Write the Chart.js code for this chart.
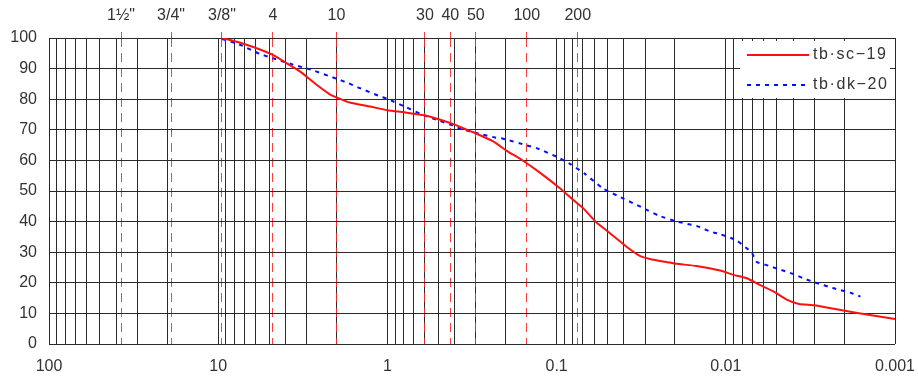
<!DOCTYPE html>
<html lang="ko">
<head>
    <meta charset="UTF-8">
    <title>입도분포곡선</title>
    <script src="https://cdn.jsdelivr.net/npm/chart.js@4.4.0/dist/chart.umd.min.js"></script>
    <style>
        html,
        body {
            margin: 0;
            padding: 0;
            background: #fff;
        }
    </style>
</head>

<body>
    <canvas id="myChart" width="918" height="378"></canvas>
    <script>
        // sieve openings (mm) and their names shown on top
        const sieveSizes = [37.5, 19, 9.5, 4.75, 2.0, 0.6, 0.425, 0.3, 0.15, 0.075];
        const sieveLabels = ['1½"', '3/4"', '3/8"', '4', '10', '30', '40', '50', '100', '200'];

        // bottom axis decades
        const decades = [100, 10, 1, 0.1, 0.01, 0.001];
        const decadeLabels = ['100', '10', '1', '0.1', '0.01', '0.001'];
        const yTickValues = [0, 10, 20, 30, 40, 50, 60, 70, 80, 90, 100];

        // tb-sc-19 : particle size (mm) / percent passing
        const scSize = [9.5, 6.8, 4.75, 3.95, 3.29, 2.62, 2.19, 2.0, 1.67, 1.27, 1.0, 0.77, 0.6, 0.487,
            0.4, 0.34, 0.311, 0.237, 0.198, 0.161, 0.1256, 0.0956, 0.0798, 0.0697, 0.0608, 0.0581,
            0.0484, 0.0386, 0.0322, 0.0281, 0.0214, 0.0195, 0.0149, 0.0108, 0.009, 0.0075, 0.0063,
            0.0052, 0.0044, 0.0037, 0.003, 0.0021, 0.0016, 0.001];
        const scPass = [100, 97.8, 94.5, 91.8, 89.1, 84.7, 81.6, 80.6, 78.9, 77.6, 76.4, 75.6, 74.7, 73.3,
            71.7, 70.0, 69.2, 66.2, 63.2, 60.2, 56.0, 50.9, 47.1, 44.4, 40.8, 39.7,
            36.2, 31.8, 28.8, 27.8, 26.6, 26.2, 25.5, 24.0, 22.6, 21.5, 19.3,
            17.1, 14.6, 13.1, 12.7, 11.1, 10.0, 8.2];

        // tb-dk-20
        const dkSize = [9.5, 8.17, 7.29, 5.68, 4.75, 3.61, 2.81, 2.0, 1.71, 1.455, 1.135, 1.0, 0.79, 0.63,
            0.49, 0.42, 0.365, 0.3, 0.272, 0.232, 0.207, 0.15, 0.131, 0.1, 0.083, 0.068, 0.0535,
            0.0427, 0.0315, 0.0248, 0.0191, 0.0149, 0.0123, 0.0108, 0.0086, 0.007, 0.0066, 0.0056,
            0.0049, 0.004, 0.0035, 0.003, 0.0023, 0.0018, 0.0016];
        const dkPass = [99.7, 98.6, 97.6, 94.8, 93.4, 91.3, 89.6, 86.7, 85.3, 83.6, 81.2, 80.1, 77.6, 75.1,
            72.9, 71.6, 70.2, 69.0, 68.4, 67.5, 67.1, 64.9, 64.0, 61.2, 58.8, 55.6, 50.9,
            48.2, 44.7, 41.9, 39.9, 38.6, 36.7, 35.9, 33.8, 29.7, 26.9, 25.6,
            24.5, 22.9, 21.5, 20.2, 18.2, 16.6, 15.5];

        const toPoints = (xs, ys) => xs.map((x, i) => ({ x: x, y: ys[i] }));

        const gridColor = '#2a2a2a';
        const textColor = '#333';
        const font = { family: '"Liberation Sans", Arial, sans-serif', size: 16 };

        // legend drawn in a white box at top right of the plot
        const boxLegend = {
            id: 'boxLegend',
            afterDraw(chart) {
                const ctx = chart.ctx;
                const a = chart.chartArea;
                ctx.save();
                ctx.fillStyle = '#fff';
                ctx.fillRect(a.right - 155, a.top + 3, 150, 57);
                chart.data.datasets.forEach((ds, i) => {
                    const y = a.top + 17 + i * 30;
                    ctx.beginPath();
                    ctx.strokeStyle = ds.borderColor;
                    ctx.lineWidth = ds.borderWidth;
                    ctx.setLineDash(ds.borderDash || []);
                    ctx.moveTo(a.right - 148, y);
                    ctx.lineTo(a.right - 86, y);
                    ctx.stroke();
                    ctx.setLineDash([]);
                    ctx.fillStyle = textColor;
                    ctx.font = '16px "Liberation Sans", Arial, sans-serif';
                    ctx.letterSpacing = '1.6px';
                    ctx.textBaseline = 'middle';
                    ctx.textAlign = 'left';
                    ctx.fillText(ds.label, a.right - 82, y);
                });
                ctx.restore();
            }
        };

        const ctx = document.getElementById('myChart').getContext('2d');
        const chart = new Chart(ctx, {
            type: 'line',
            data: {
                datasets: [{
                    label: 'tb·sc−19',
                    data: toPoints(scSize, scPass),
                    borderColor: '#ff1010',
                    borderWidth: 2,
                    pointRadius: 0,
                    fill: false,
                    tension: 0.15
                }, {
                    label: 'tb·dk−20',
                    data: toPoints(dkSize, dkPass),
                    borderColor: '#0010ff',
                    borderWidth: 2,
                    borderDash: [4, 5],
                    pointRadius: 0,
                    fill: false,
                    tension: 0.15
                }]
            },
            options: {
                responsive: false,
                animation: false,
                devicePixelRatio: 1,
                layout: { padding: { left: 0, right: 23, top: 0, bottom: 0 } },
                plugins: { legend: { display: false }, tooltip: { enabled: false } },
                scales: {
                    x: {
                        type: 'logarithmic',
                        position: 'bottom',
                        reverse: true,
                        min: 0.001,
                        max: 100,
                        afterBuildTicks: axis => {
                            const t = [];
                            decades.forEach(d => {
                                for (let m = 1; m <= 9; m++) {
                                    const v = d * m;
                                    if (v >= 0.001 && v <= 100) t.push({ value: v });
                                }
                            });
                            axis.ticks = t;
                        },
                        afterFit: s => { s.height = 34; },
                        grid: { color: gridColor, lineWidth: 1, drawTicks: false },
                        border: { display: false },
                        ticks: {
                            autoSkip: false,
                            maxRotation: 0,
                            padding: 13,
                            color: textColor,
                            font: font,
                            callback: v => {
                                const k = decades.findIndex(d => Math.abs(d - v) / d < 1e-6);
                                return k >= 0 ? decadeLabels[k] : '';
                            }
                        }
                    },
                    x2: {
                        type: 'logarithmic',
                        position: 'top',
                        reverse: true,
                        min: 0.001,
                        max: 100,
                        afterBuildTicks: axis => {
                            axis.ticks = sieveSizes.map(v => ({ value: v }));
                        },
                        afterFit: s => { s.height = 38; },
                        grid: {
                            color: 'rgba(255,40,40,0.9)',
                            lineWidth: 1,
                            drawOnChartArea: true,
                            drawTicks: true,
                            tickLength: 6,
                            tickColor: 'rgba(255,40,40,0.9)',
                            tickBorderDash: [6, 4]
                        },
                        border: { display: false, dash: [9, 6] },
                        ticks: {
                            autoSkip: false,
                            maxRotation: 0,
                            padding: 7,
                            color: textColor,
                            font: font,
                            callback: (v, i) => sieveLabels[i]
                        }
                    },
                    y: {
                        min: 0,
                        max: 100,
                        afterBuildTicks: axis => {
                            axis.ticks = yTickValues.map(v => ({ value: v }));
                        },
                        afterFit: s => { s.width = 49; },
                        grid: { color: gridColor, lineWidth: 1, drawTicks: false },
                        border: { display: false },
                        ticks: {
                            padding: 12,
                            color: textColor,
                            font: font
                        }
                    }
                }
            },
            plugins: [boxLegend]
        });
    </script>
</body>

</html>
